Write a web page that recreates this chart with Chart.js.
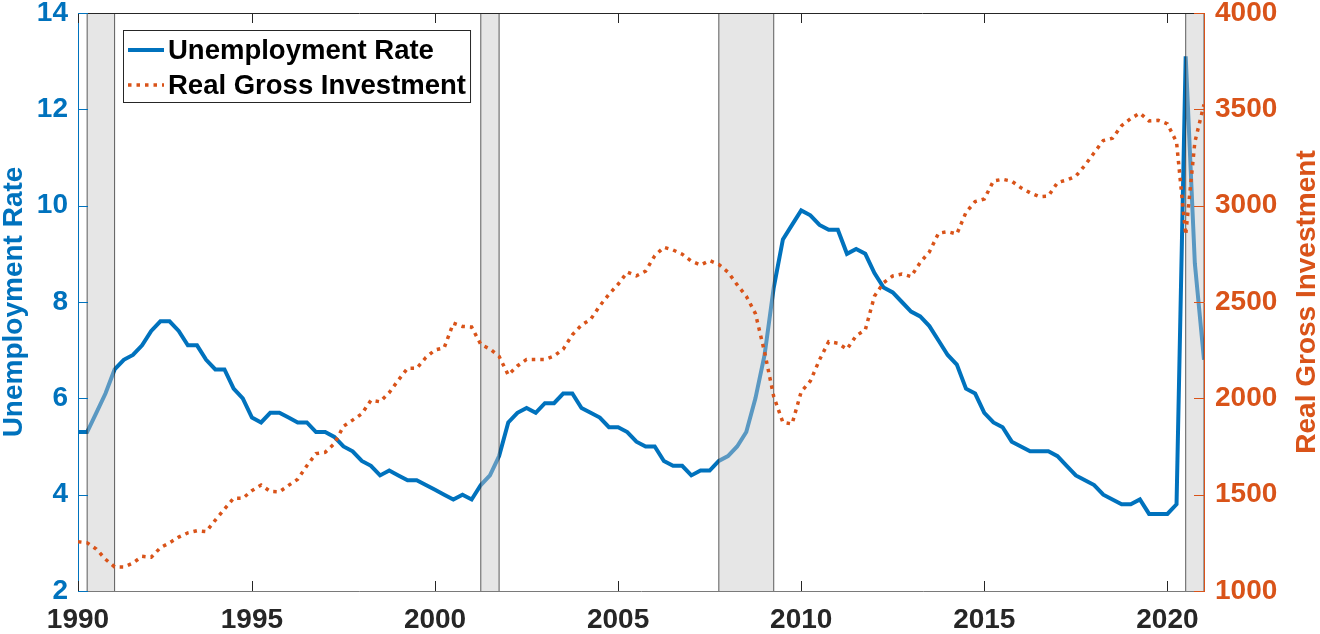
<!DOCTYPE html>
<html>
<head>
<meta charset="utf-8">
<script src="https://cdn.jsdelivr.net/npm/chart.js@4.4.0/dist/chart.umd.min.js"></script>
<style>
  html, body { margin: 0; padding: 0; background: #fff; }
  #wrap { width: 1320px; height: 634px; position: relative; }
</style>
</head>
<body>
<div id="wrap"><canvas id="chart"></canvas></div>
<script>
// quarterly data, plotted at the end of each quarter
const years = [1990, 1991, 1992, 1993, 1994, 1995, 1996, 1997, 1998, 1999,
  2000, 2001, 2002, 2003, 2004, 2005, 2006, 2007, 2008, 2009,
  2010, 2011, 2012, 2013, 2014, 2015, 2016, 2017, 2018, 2019, 2020];
const quarterNames = ["Q1", "Q2", "Q3", "Q4"];

const unemployment = [
  5.3, 5.3, 5.7, 6.1,   6.6, 6.8, 6.9, 7.1,   7.4, 7.6, 7.6, 7.4,
  7.1, 7.1, 6.8, 6.6,   6.6, 6.2, 6.0, 5.6,   5.5, 5.7, 5.7, 5.6,
  5.5, 5.5, 5.3, 5.3,   5.2, 5.0, 4.9, 4.7,   4.6, 4.4, 4.5, 4.4,
  4.3, 4.3, 4.2, 4.1,   4.0, 3.9, 4.0, 3.9,   4.2, 4.4, 4.8, 5.5,
  5.7, 5.8, 5.7, 5.9,   5.9, 6.1, 6.1, 5.8,   5.7, 5.6, 5.4, 5.4,
  5.3, 5.1, 5.0, 5.0,   4.7, 4.6, 4.6, 4.4,   4.5, 4.5, 4.7, 4.8,
  5.0, 5.3, 6.0, 6.9,   8.3, 9.3, 9.6, 9.9,   9.8, 9.6, 9.5, 9.5,
  9.0, 9.1, 9.0, 8.6,   8.3, 8.2, 8.0, 7.8,   7.7, 7.5, 7.2, 6.9,
  6.7, 6.2, 6.1, 5.7,   5.5, 5.4, 5.1, 5.0,   4.9, 4.9, 4.9, 4.8,
  4.6, 4.4, 4.3, 4.2,   4.0, 3.9, 3.8, 3.8,   3.9, 3.6, 3.6, 3.6,
  3.8, 13.1, 8.8, 6.8
];

const investment = [
  1256, 1250, 1218, 1165,   1125, 1124, 1145, 1180,   1175, 1225, 1250, 1280,
  1302, 1313, 1308, 1368,   1425, 1481, 1481, 1521,   1550, 1517, 1515, 1548,
  1580, 1650, 1713, 1720,   1765, 1855, 1887, 1920,   1990, 1982, 2030, 2095,
  2156, 2156, 2212, 2251,   2262, 2390, 2373, 2370,   2280, 2256, 2218, 2121,
  2168, 2202, 2202, 2202,   2220, 2255, 2330, 2380,   2410, 2480, 2540, 2592,
  2655, 2636, 2660, 2740,   2784, 2770, 2748, 2712,   2692, 2715, 2695, 2655,
  2590, 2530, 2440, 2240,   2009, 1875, 1867, 2034,   2090, 2200, 2294, 2286,
  2255, 2325, 2355, 2530,   2600, 2635, 2645, 2632,   2705, 2760, 2857, 2865,
  2853, 2965, 3021, 3035,   3128, 3137, 3127, 3093,   3067, 3047, 3050, 3120,
  3133, 3153, 3210, 3275,   3338, 3350, 3415, 3452,   3480, 3440, 3443, 3425,
  3330, 2848, 3330, 3525
];

const recessionStart = [1990.5, 2001.25, 2007.75, 2020.5];
const recessionEnd = [1991.25, 2001.75, 2009.25, 2021.0];
const xTickYears = [1990, 1995, 2000, 2005, 2010, 2015, 2020];

const BLUE = "#0072BD";
const ORANGE = "#D95319";
const AXIS = "#262626";
const FONT = "'Liberation Sans', Arial, Helvetica, sans-serif";

// quarter "1990Q1" -> 1990.25 (end of quarter)
const quarters = [];
years.forEach(y => quarterNames.forEach(q => quarters.push(y + q)));
const quarterEnd = q => Number(q.slice(0, 4)) + Number(q.slice(5)) / 4;

const unempPoints = quarters.map((q, i) => ({ x: quarterEnd(q), y: unemployment[i] }));
const investPoints = quarters.map((q, i) => ({ x: quarterEnd(q), y: investment[i] }));

const recessionPlugin = {
  id: "recessions",
  afterDatasetDraw(chart, args) {
    if (args.index !== 0) return;   // right after the unemployment line
    const { ctx, chartArea } = chart;
    const xs = chart.scales.x;
    ctx.save();
    ctx.beginPath();
    ctx.rect(chartArea.left, chartArea.top, chartArea.width, chartArea.height);
    ctx.clip();
    recessionStart.forEach((s, i) => {
      const x0 = xs.getPixelForValue(s);
      const x1 = xs.getPixelForValue(recessionEnd[i]);
      ctx.fillStyle = "rgba(200,200,200,0.45)";
      ctx.fillRect(x0, chartArea.top, x1 - x0, chartArea.height);
      ctx.strokeStyle = "rgba(40,40,40,0.75)";
      ctx.lineWidth = 1;
      ctx.beginPath();
      ctx.moveTo(x0, chartArea.top); ctx.lineTo(x0, chartArea.bottom);
      ctx.moveTo(x1, chartArea.top); ctx.lineTo(x1, chartArea.bottom);
      ctx.stroke();
    });
    ctx.restore();
  }
};

const framePlugin = {
  id: "frame",
  afterDraw(chart) {
    const { ctx, chartArea: a } = chart;
    const xs = chart.scales.x, yl = chart.scales.y, yr = chart.scales.y1;
    const len = 10;
    ctx.save();
    ctx.lineWidth = 1;

    // top box line
    ctx.strokeStyle = AXIS;
    ctx.beginPath();
    ctx.moveTo(a.left, a.top + 0.5); ctx.lineTo(a.right, a.top + 0.5);
    ctx.stroke();

    // inward ticks on x (bottom and top)
    ctx.beginPath();
    xs.ticks.forEach(t => {
      const px = Math.round(xs.getPixelForValue(t.value)) + 0.5;
      ctx.moveTo(px, a.bottom); ctx.lineTo(px, a.bottom - len);
      ctx.moveTo(px, a.top); ctx.lineTo(px, a.top + len);
    });
    ctx.stroke();

    ctx.strokeStyle = BLUE;
    ctx.beginPath();
    yl.ticks.forEach(t => {
      const py = Math.round(yl.getPixelForValue(t.value)) + 0.5;
      ctx.moveTo(a.left, py); ctx.lineTo(a.left + len, py);
    });
    ctx.stroke();

    ctx.strokeStyle = ORANGE;
    ctx.beginPath();
    yr.ticks.forEach(t => {
      const py = Math.round(yr.getPixelForValue(t.value)) + 0.5;
      ctx.moveTo(a.right, py); ctx.lineTo(a.right - len, py);
    });
    ctx.stroke();

    // right axis title, reading bottom to top like the left one
    ctx.font = "bold 28px " + FONT;
    ctx.fillStyle = ORANGE;
    ctx.textAlign = "center";
    ctx.textBaseline = "middle";
    ctx.translate(yr.right - 13, (a.top + a.bottom) / 2);
    ctx.rotate(-Math.PI / 2);
    ctx.fillText("Real Gross Investment", 0, 0);
    ctx.restore();

    // legend box
    ctx.save();
    ctx.font = "bold 27.5px " + FONT;
    const sets = chart.data.datasets;
    const textW = Math.max(...sets.map(d => ctx.measureText(d.label).width));
    const bx = a.left + 45, by = a.top + 17, bh = 72, bw = 45 + textW + 4;
    ctx.fillStyle = "#fff";
    ctx.fillRect(bx, by, bw, bh);
    ctx.strokeStyle = AXIS;
    ctx.lineWidth = 1;
    ctx.strokeRect(bx + 0.5, by + 0.5, bw, bh);
    sets.forEach((d, i) => {
      const cy = by + 20 + i * 35;
      ctx.strokeStyle = d.borderColor;
      ctx.lineWidth = d.borderWidth;
      ctx.setLineDash(d.borderDash || []);
      ctx.beginPath();
      ctx.moveTo(bx + 5, cy); ctx.lineTo(bx + 41, cy);
      ctx.stroke();
      ctx.setLineDash([]);
      ctx.fillStyle = "#000";
      ctx.textAlign = "left";
      ctx.textBaseline = "middle";
      ctx.fillText(d.label, bx + 45, cy + 1);
    });
    ctx.restore();
  }
};

new Chart(document.getElementById("chart"), {
  type: "line",
  data: {
    datasets: [
      {
        label: "Unemployment Rate",
        data: unempPoints,
        yAxisID: "y",
        borderColor: BLUE,
        borderWidth: 4,
        pointRadius: 0,
        tension: 0,
        order: 1
      },
      {
        label: "Real Gross Investment",
        data: investPoints,
        yAxisID: "y1",
        borderColor: ORANGE,
        borderWidth: 3.5,
        borderDash: [3.5, 5],
        borderCapStyle: "butt",
        pointRadius: 0,
        tension: 0,
        order: 0
      }
    ]
  },
  options: {
    responsive: true,
    maintainAspectRatio: false,
    animation: false,
    layout: { padding: { top: 13, left: 0, right: 0, bottom: 0 } },
    plugins: { legend: { display: false }, tooltip: { enabled: false } },
    scales: {
      x: {
        type: "linear",
        min: 1990.25,
        max: 2021,
        afterBuildTicks: s => { s.ticks = xTickYears.map(v => ({ value: Math.max(v, s.min) })); },
        afterFit: s => { s.height = 43; s.paddingLeft = 0; s.paddingRight = 0; },
        grid: { drawOnChartArea: false, drawTicks: false },
        border: { color: "#7a7a7a", width: 1 },
        ticks: {
          autoSkip: false,
          maxRotation: 0,
          padding: 12,
          color: AXIS,
          font: { family: FONT, size: 28, weight: "bold" },
          callback: v => String(Math.floor(v))
        }
      },
      y: {
        position: "left",
        min: 2,
        max: 14,
        afterFit: s => { s.width = 78; s.paddingTop = 0; s.paddingBottom = 0; },
        grid: { drawOnChartArea: false, drawTicks: false },
        border: { color: BLUE, width: 1 },
        ticks: {
          stepSize: 2,
          padding: 10,
          color: BLUE,
          font: { family: FONT, size: 28, weight: "bold" },
          callback: v => String(v)
        },
        title: {
          display: true,
          text: "Unemployment Rate",
          color: BLUE,
          padding: 0,
          font: { family: FONT, size: 28, weight: "bold", lineHeight: 1 }
        }
      },
      y1: {
        position: "right",
        min: 1000,
        max: 4000,
        afterFit: s => { s.width = 116; s.paddingTop = 0; s.paddingBottom = 0; },
        grid: { drawOnChartArea: false, drawTicks: false },
        border: { color: ORANGE, width: 1 },
        ticks: {
          stepSize: 500,
          padding: 11,
          color: ORANGE,
          font: { family: FONT, size: 28, weight: "bold" },
          callback: v => String(v)
        }
      }
    }
  },
  plugins: [recessionPlugin, framePlugin]
});
</script>
</body>
</html>
